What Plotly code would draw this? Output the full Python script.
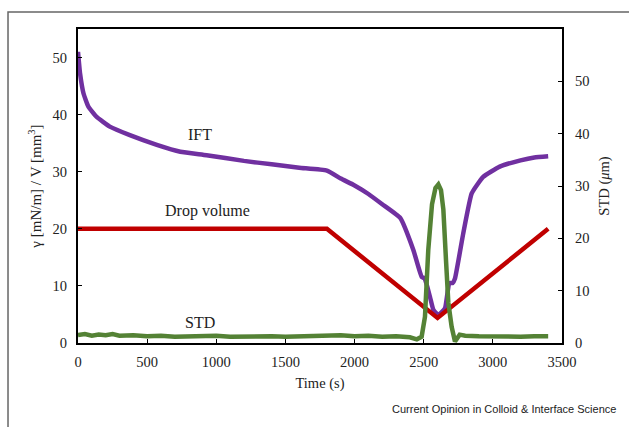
import plotly.graph_objects as go

# IFT (left axis, mN/m)
ift_t = [0, 15, 40, 75, 135, 230, 375, 570, 740, 930, 1200, 1400, 1600, 1800,
         1900, 2000, 2100, 2200, 2330, 2425, 2485, 2507, 2545, 2570, 2606, 2654,
         2685, 2709, 2726, 2786, 2847, 2930, 3050, 3200, 3300, 3400]
ift_v = [51.0, 47.2, 43.7, 41.4, 39.6, 37.9, 36.4, 34.7, 33.5, 32.9, 31.9, 31.3, 30.7, 30.2,
         28.8, 27.6, 26.1, 24.3, 21.9, 16.3, 11.6, 11.3, 8.1, 5.8, 4.9, 6.1,
         10.5, 10.5, 11.3, 19.2, 26.2, 29.1, 30.9, 32.0, 32.5, 32.7]

# Drop volume (left axis, mm^3)
vol_t = [0, 1800, 2600, 3400]
vol_v = [20.0, 20.0, 4.4, 20.0]

# STD (right axis, um)
std_t = [0, 50, 100, 150, 200, 250, 300, 400, 500, 600, 700, 800, 900, 1000, 1100, 1200, 1300, 1400,
         1500, 1600, 1700, 1800, 1900, 2000, 2100, 2200, 2300, 2400, 2450, 2485, 2509, 2533, 2560,
         2585, 2606, 2625, 2642, 2661, 2678, 2702, 2726, 2760, 2800, 2900, 3000,
         3100, 3200, 3300, 3400]
std_v = [1.5, 1.7, 1.4, 1.6, 1.5, 1.7, 1.4, 1.5, 1.3, 1.4, 1.2, 1.3, 1.3, 1.4, 1.2, 1.3, 1.2, 1.3,
         1.2, 1.3, 1.2, 1.4, 1.5, 1.3, 1.4, 1.2, 1.3, 1.1, 0.7, 1.2, 5.0, 17.8, 26.5,
         29.6, 30.3, 29.2, 25.5, 15.9, 7.7, 3.1, 0.3, 1.6, 1.4, 1.3, 1.2,
         1.3, 1.2, 1.3, 1.3]

x_ticks = [0, 500, 1000, 1500, 2000, 2500, 3000, 3500]

serif = "Liberation Serif, Times New Roman, serif"

fig = go.Figure()
fig.add_trace(go.Scatter(x=ift_t, y=ift_v, mode="lines", line=dict(color="#7030A0", width=4.5, shape="spline", smoothing=0.4),
                         name="IFT", showlegend=False))
fig.add_trace(go.Scatter(x=vol_t, y=vol_v, mode="lines", line=dict(color="#C00000", width=4.5),
                         name="Drop volume", showlegend=False))
fig.add_trace(go.Scatter(x=std_t, y=std_v, mode="lines", line=dict(color="#548235", width=4.5),
                         name="STD", yaxis="y2", showlegend=False))

fig.update_layout(
    width=629, height=427,
    margin=dict(l=78, r=67, t=29, b=84),
    paper_bgcolor="white", plot_bgcolor="white",
    font=dict(family=serif, size=14.5, color="#222"),
    xaxis=dict(range=[0, 3500], tickvals=x_ticks, ticks="inside", ticklen=4, tickcolor="black",
               ticklabelstandoff=5,
               showline=True, linecolor="black", linewidth=2, mirror=True, showgrid=False,
               zeroline=False, title=dict(text="Time (s)", standoff=8, font=dict(size=14.5))),
    yaxis=dict(range=[0, 55], tickvals=[0, 10, 20, 30, 40, 50], ticks="inside", ticklen=4,
               tickcolor="black", ticklabelstandoff=6, showline=True, linecolor="black", linewidth=2,
               showgrid=False, zeroline=False,
               title=dict(text="γ [mN/m] / V [mm<sup>3</sup>]", standoff=7, font=dict(size=15))),
    yaxis2=dict(range=[0, 60], tickvals=[0, 10, 20, 30, 40, 50], overlaying="y", side="right",
                ticks="inside", ticklen=4, tickcolor="black", ticklabelstandoff=8, showline=True,
                linecolor="black", linewidth=2, showgrid=False, zeroline=False,
                title=dict(text="STD (<i>μ</i>m)", standoff=10, font=dict(size=14.5))),
    annotations=[
        dict(x=882, y=36.6, xref="x", yref="y", text="IFT", showarrow=False, font=dict(size=16)),
        dict(x=940, y=23.2, xref="x", yref="y", text="Drop volume", showarrow=False, font=dict(size=16)),
        dict(x=882, y=3.6, xref="x", yref="y", text="STD", showarrow=False, font=dict(size=16)),
        dict(x=1.115, y=-0.21, xref="paper", yref="paper", xanchor="right", yanchor="middle",
             text="Current Opinion in Colloid & Interface Science", showarrow=False,
             font=dict(family="Liberation Sans, Arial, sans-serif", size=11, color="#222")),
    ],
    shapes=[dict(type="rect", xref="paper", yref="paper", x0=-0.1446, x1=1.2, y0=-0.35, y1=1.054,
                 line=dict(color="#666", width=1.5), fillcolor="rgba(0,0,0,0)", layer="below")],
)

fig.write_html("out.html")
